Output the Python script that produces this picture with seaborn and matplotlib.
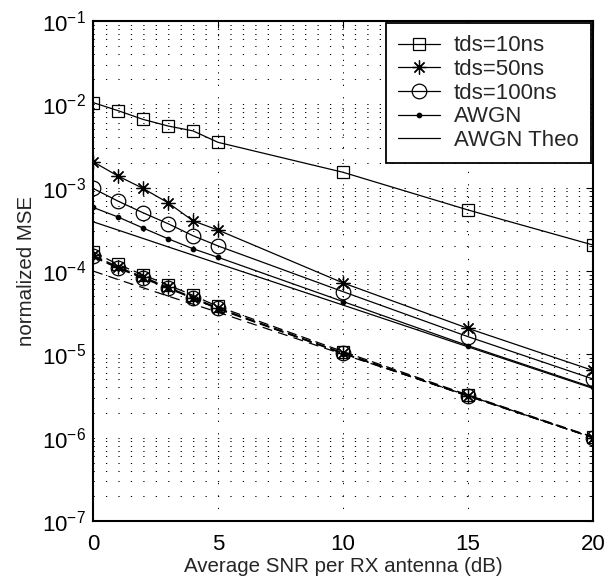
import numpy as np
import pandas as pd
import matplotlib
matplotlib.use("Agg")
import matplotlib.pyplot as plt
import seaborn as sns
from matplotlib.ticker import LogLocator, FixedLocator

# ---- data ----
snr = [0, 1, 2, 3, 4, 5, 10, 15, 20]

mse_10ns = [1.05e-2, 8.4e-3, 6.6e-3, 5.5e-3, 4.8e-3, 3.5e-3, 1.53e-3, 5.4e-4, 2.05e-4]
mse_50ns = [2.05e-3, 1.38e-3, 9.8e-4, 6.6e-4, 4.0e-4, 3.1e-4, 7.2e-5, 2.05e-5, 6.4e-6]
mse_100ns = [9.8e-4, 6.9e-4, 5.0e-4, 3.7e-4, 2.65e-4, 2.0e-4, 5.65e-5, 1.63e-5, 5.06e-6]
mse_awgn = [5.8e-4, 4.45e-4, 3.28e-4, 2.44e-4, 1.85e-4, 1.46e-4, 4.3e-5, 1.27e-5, 4.0e-6]
mse_theo = [3.9e-4, 3.1e-4, 2.46e-4, 1.95e-4, 1.55e-4, 1.23e-4, 3.9e-5, 1.23e-5, 3.9e-6]

dash_10ns = [1.7e-4, 1.2e-4, 9.0e-5, 6.8e-5, 5.1e-5, 3.75e-5, 1.08e-5, 3.25e-6, 1.02e-6]
dash_50ns = [1.55e-4, 1.12e-4, 8.5e-5, 6.4e-5, 4.8e-5, 3.6e-5, 1.04e-5, 3.2e-6, 1.0e-6]
dash_100ns = [1.5e-4, 1.1e-4, 8.3e-5, 6.3e-5, 4.7e-5, 3.55e-5, 1.03e-5, 3.15e-6, 1.0e-6]
dash_awgn = [1.48e-4, 1.08e-4, 8.2e-5, 6.2e-5, 4.7e-5, 3.5e-5, 1.02e-5, 3.15e-6, 1.0e-6]
dash_theo = [1.0e-4, 7.9e-5, 6.3e-5, 5.0e-5, 4.0e-5, 3.2e-5, 1.0e-5, 3.2e-6, 1.0e-6]

labels = ["tds=10ns", "tds=50ns", "tds=100ns", "AWGN", "AWGN Theo"]
x_ticks = [0, 5, 10, 15, 20]

# ---- style ----
sns.set_theme(style="white")
plt.rcParams["font.family"] = ["Liberation Sans", "DejaVu Sans"]
plt.rcParams["mathtext.fontset"] = "custom"
plt.rcParams["mathtext.rm"] = "Liberation Sans"
plt.rcParams["mathtext.it"] = "Liberation Sans"
plt.rcParams["mathtext.default"] = "regular"

fig = plt.figure(figsize=(6.15, 5.84), dpi=100)
ax = fig.add_axes([93 / 615, 1 - 521 / 584, 500 / 615, 500 / 584])

asterisk = (8, 2, 0)
solid_specs = [
    (mse_10ns, "s", 8.5, labels[0]),
    (mse_50ns, asterisk, 10, labels[1]),
    (mse_100ns, "o", 10.5, labels[2]),
    (mse_awgn, "o", 3.2, labels[3]),
    (mse_theo, None, 0, labels[4]),
]
dash_specs = [
    (dash_10ns, "s", 8.5),
    (dash_50ns, asterisk, 10),
    (dash_100ns, "o", 10.5),
    (dash_awgn, "o", 3.2),
]

for vals, mk, ms, lab in solid_specs:
    df = pd.DataFrame({"snr": snr, "mse": vals})
    kw = dict(color="black", linewidth=0.9, linestyle="-")
    if mk is not None:
        kw.update(marker=mk, markersize=ms, markeredgewidth=0.9,
                  markerfacecolor="black" if ms < 5 else "none",
                  markeredgecolor="black")
    sns.lineplot(data=df, x="snr", y="mse", ax=ax, label=lab, **kw)

for vals, mk, ms in dash_specs:
    df = pd.DataFrame({"snr": snr, "mse": vals})
    sns.lineplot(data=df, x="snr", y="mse", ax=ax, color="black",
                 linewidth=0.9, linestyle=(0, (8, 4)), marker=mk,
                 markersize=ms, markeredgewidth=0.9,
                 markerfacecolor="black" if ms < 5 else "none",
                 markeredgecolor="black", legend=False)
df = pd.DataFrame({"snr": snr, "mse": dash_theo})
sns.lineplot(data=df, x="snr", y="mse", ax=ax, color="black",
             linewidth=0.9, linestyle=(0, (8, 5)), legend=False)

ax.set_yscale("log")
ax.set_xlim(0, 20)
ax.set_ylim(1e-7, 1e-1)
ax.xaxis.set_major_locator(FixedLocator(x_ticks))
ax.yaxis.set_major_locator(LogLocator(base=10, numticks=10))
ax.yaxis.set_minor_locator(LogLocator(base=10, subs=np.arange(2, 10), numticks=20))

grid_kw = dict(color="black", linewidth=0.7, linestyle=(0, (1.3, 11.5)))
ax.grid(True, which="major", axis="both", **grid_kw)
ax.grid(True, which="minor", axis="y", **grid_kw)
ax.set_axisbelow(True)

ax.tick_params(axis="both", which="both", direction="in", top=True, right=True,
               labelsize=16, colors="black")
ax.tick_params(axis="x", pad=9)
ax.tick_params(axis="y", pad=5)
ax.tick_params(which="major", length=5, width=0.8)
ax.tick_params(which="minor", length=3, width=0.6)
for sp in ax.spines.values():
    sp.set_color("black")
    sp.set_linewidth(1.5)

ax.set_xlabel("Average SNR per RX antenna (dB)", fontsize=14.8, labelpad=2)
ax.set_ylabel("normalized MSE", fontsize=14.8, labelpad=4)

leg_handles, leg_labels = ax.get_legend_handles_labels()
leg = ax.legend(leg_handles[:5], leg_labels[:5], loc="upper right",
                fontsize=16, frameon=True, fancybox=False, framealpha=1,
                edgecolor="black", borderaxespad=0.1, handlelength=1.9,
                handletextpad=0.6, labelspacing=0.12, borderpad=0.55)
leg.get_frame().set_linewidth(1.3)

fig.savefig("out.png", dpi=100)
